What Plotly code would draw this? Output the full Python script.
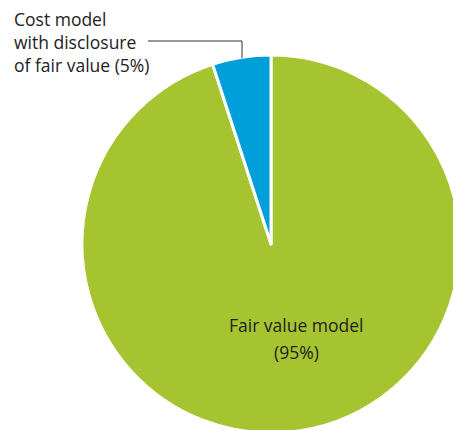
import plotly.graph_objects as go

labels = ["Fair value model", "Cost model with disclosure of fair value"]
shares = [95, 5]
colors = ["#A5C42F", "#009FDA"]

# figure is slightly larger than the window so the pie runs off the edges
W, H = 462, 440


def px(x):
    return x / W


def py(y):
    return 1 - y / H


fig = go.Figure(
    go.Pie(
        labels=labels,
        values=shares,
        sort=False,
        direction="clockwise",
        rotation=0,
        textinfo="none",
        hoverinfo="label+percent",
        marker=dict(colors=colors, line=dict(color="white", width=3)),
        domain=dict(x=[px(82), px(460)], y=[py(433), py(55)]),
        showlegend=False,
    )
)

font = dict(family="Open Sans, Noto Sans, sans-serif", size=17.5, color="#222222")

fig.add_annotation(
    x=px(12), y=py(42), xref="paper", yref="paper",
    xanchor="left", yanchor="middle", align="left",
    text=f"Cost model<br>with disclosure<br>of fair value ({shares[1]}%)",
    showarrow=False, font=font,
)
fig.add_annotation(
    x=px(296), y=py(325), xref="paper", yref="paper",
    xanchor="center", yanchor="middle",
    text=labels[0], showarrow=False, font=font,
)
fig.add_annotation(
    x=px(296), y=py(352), xref="paper", yref="paper",
    xanchor="center", yanchor="middle",
    text=f"({shares[0]}%)", showarrow=False, font=font,
)

# leader line to the small slice
fig.add_shape(
    type="path", xref="paper", yref="paper",
    path=f"M {px(148)} {py(41)} L {px(242)} {py(41)} L {px(242)} {py(58)}",
    line=dict(color="#333333", width=1),
)

fig.update_layout(
    width=W,
    height=H,
    margin=dict(l=0, r=0, t=0, b=0),
    paper_bgcolor="white",
    plot_bgcolor="white",
)

fig.write_html(
    "out.html",
    config=dict(displayModeBar=False),
    post_script="document.body.style.margin='0';document.body.style.overflow='hidden';",
)
